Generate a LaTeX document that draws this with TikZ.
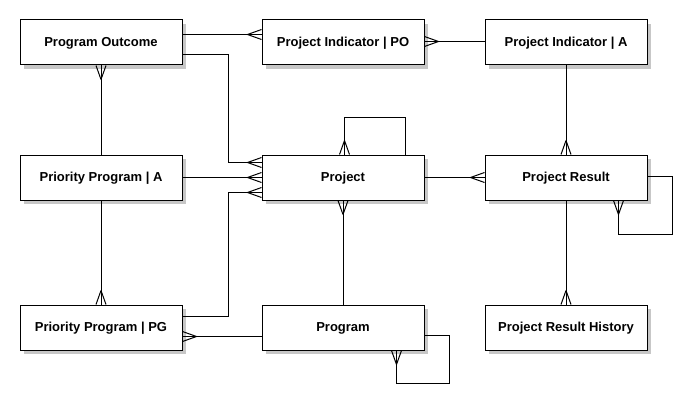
\documentclass[tikz,border=0pt]{standalone}
\usepackage{fontspec}
\setmainfont{Liberation Sans}
\usetikzlibrary{calc,shadows}
\tikzset{
  ent/.style={draw=black, line width=1pt, fill=white, minimum width=162pt, minimum height=45pt,
    inner sep=0pt, text height=8pt, text depth=0pt, font=\bfseries\fontsize{13}{15}\selectfont,
    drop shadow={shadow xshift=4pt, shadow yshift=-4pt, fill=black!22, opacity=1}},
  conn/.style={draw=black, line width=1pt},
}
\newcommand\crowR[1]{\draw[conn] ($(#1)+(-14,0)$) -- ($(#1)+(0,5)$) ($(#1)+(-14,0)$) -- ($(#1)+(0,-5)$);}
\newcommand\crowL[1]{\draw[conn] ($(#1)+(14,0)$) -- ($(#1)+(0,5)$) ($(#1)+(14,0)$) -- ($(#1)+(0,-5)$);}
\newcommand\crowD[1]{\draw[conn] ($(#1)+(0,-14)$) -- ($(#1)+(5,0)$) ($(#1)+(0,-14)$) -- ($(#1)+(-5,0)$);}
\newcommand\crowU[1]{\draw[conn] ($(#1)+(0,14)$) -- ($(#1)+(5,0)$) ($(#1)+(0,14)$) -- ($(#1)+(-5,0)$);}
\begin{document}
\begin{tikzpicture}[x=1pt,y=-1pt]
\useasboundingbox[fill=white] (0,0) rectangle (693,404);
\node[ent] (po)   at (101,42.5)  {Program Outcome};
\node[ent] (pipo) at (343,42.5)  {Project Indicator | PO};
\node[ent] (pia)  at (566,42.5)  {Project Indicator | A};
\node[ent] (ppa)  at (101,177.5) {Priority Program | A};
\node[ent] (prj)  at (343,177.5) {Project};
\node[ent] (pr)   at (566,177.5) {Project Result};
\node[ent] (pppg) at (101,327.5) {Priority Program | PG};
\node[ent] (prog) at (343,327.5) {Program};
\node[ent] (prh)  at (566,327.5) {Project Result History};

% named end points
\coordinate (a1) at ($(po.north east)+(0,15)$);
\coordinate (b1) at ($(pipo.north west)+(0,15)$);
\coordinate (a2) at ($(po.north east)+(0,35)$);
\coordinate (b2) at ($(prj.north west)+(0,8)$);
\coordinate (a5) at ($(pppg.north east)+(0,12)$);
\coordinate (b5) at ($(prj.south west)+(0,-8)$);
\coordinate (a7) at ($(prog.south west)+(0,-14)$);
\coordinate (b7) at ($(pppg.south east)+(0,-14)$);
\coordinate (a9) at ($(prog.south east)+(0,-15)$);
\coordinate (b9) at ($(prog.south west)+(135,0)$);
\coordinate (a10) at ($(prj.north west)+(144,0)$);
\coordinate (b10) at ($(prj.north west)+(83,0)$);
\coordinate (a12) at ($(pia.north west)+(0,22)$);
\coordinate (b12) at ($(pipo.north east)+(0,22)$);
\coordinate (a14) at ($(pr.north east)+(0,22)$);
\coordinate (b14) at ($(pr.south west)+(134,0)$);

\draw[conn] (a1) -- (b1);            \crowR{b1}
\draw[conn] (a2) -- ++(46,0) |- (b2); \crowR{b2}
\draw[conn] (ppa.north) -- (po.south); \crowU{po.south}
\draw[conn] (ppa.east) -- (prj.west);  \crowR{prj.west}
\draw[conn] (a5) -- ++(46,0) |- (b5); \crowR{b5}
\draw[conn] (ppa.south) -- (pppg.north); \crowD{pppg.north}
\draw[conn] (a7) -- (b7);            \crowL{b7}
\draw[conn] (prog.north) -- (prj.south); \crowU{prj.south}
\draw[conn] (a9) -- ++(25,0) -- ++(0,48) -| (b9); \crowU{b9}
\draw[conn] (a10) -- ++(0,-37) -| (b10); \crowD{b10}
\draw[conn] (prj.east) -- (pr.west);  \crowR{pr.west}
\draw[conn] (a12) -- (b12);          \crowL{b12}
\draw[conn] (pia.south) -- (pr.north); \crowD{pr.north}
\draw[conn] (a14) -- ++(25,0) -- ++(0,58) -| (b14); \crowU{b14}
\draw[conn] (pr.south) -- (prh.north); \crowD{prh.north}
\end{tikzpicture}
\end{document}
